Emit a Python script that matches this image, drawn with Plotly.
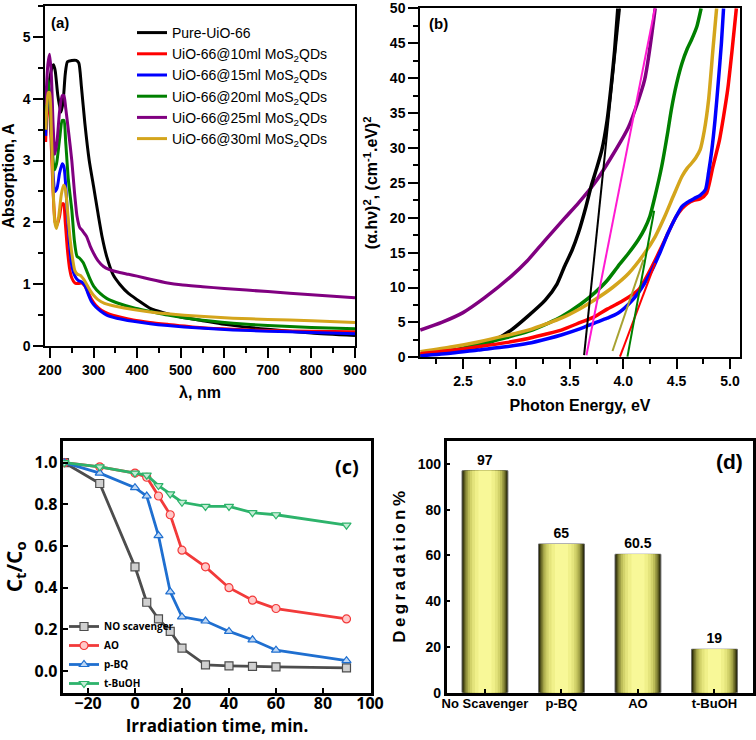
import plotly.graph_objects as go

# ---------------- DATA ----------------
# (a) UV-Vis absorption spectra
wl_pure = [190, 195, 200, 205, 208, 212, 218, 225, 230, 235, 240, 250, 260, 266, 272, 280, 290, 300, 310, 320, 330, 345, 360, 380, 400, 430, 460, 500, 550, 600, 700, 800, 900]
abs_pure = [3.9, 4.1, 4.35, 4.52, 4.55, 4.45, 4.05, 3.78, 3.95, 4.4, 4.6, 4.62, 4.62, 4.58, 4.2, 3.6, 3.0, 2.58, 2.15, 1.75, 1.45, 1.15, 1.0, 0.85, 0.75, 0.61, 0.54, 0.47, 0.41, 0.35, 0.27, 0.21, 0.17]

wl_10 = [190, 193, 197, 202, 207, 212, 216, 222, 227, 231, 235, 240, 245, 250, 257, 265, 273, 280, 287, 295, 305, 318, 335, 360, 391, 430, 470, 544, 620, 700, 800, 900]
abs_10 = [3.3, 3.8, 4.0, 3.4, 2.5, 2.0, 1.95, 2.1, 2.3, 2.3, 2.0, 1.55, 1.25, 1.1, 1.02, 1.01, 1.02, 0.97, 0.88, 0.76, 0.66, 0.58, 0.52, 0.47, 0.42, 0.38, 0.35, 0.3, 0.27, 0.25, 0.24, 0.23]

wl_15 = [190, 193, 197, 202, 207, 211, 216, 222, 228, 232, 236, 242, 250, 258, 265, 272, 280, 287, 295, 305, 315, 330, 353, 391, 430, 470, 544, 620, 700, 800, 900]
abs_15 = [3.4, 3.9, 4.2, 3.6, 2.8, 2.5, 2.55, 2.8, 2.95, 2.9, 2.6, 1.9, 1.3, 1.12, 1.06, 1.04, 0.98, 0.85, 0.72, 0.63, 0.57, 0.5, 0.45, 0.4, 0.36, 0.33, 0.29, 0.26, 0.24, 0.22, 0.2]

wl_20 = [190, 193, 196, 200, 205, 210, 215, 222, 228, 232, 236, 242, 250, 256, 262, 268, 276, 284, 292, 300, 315, 330, 353, 391, 430, 470, 544, 620, 700, 800, 900]
abs_20 = [3.5, 4.1, 4.3, 3.9, 3.2, 2.85, 2.95, 3.35, 3.65, 3.65, 3.3, 2.7, 2.2, 1.7, 1.45, 1.42, 1.35, 1.22, 1.08, 0.97, 0.85, 0.77, 0.7, 0.62, 0.56, 0.5, 0.42, 0.37, 0.33, 0.3, 0.28]

wl_25 = [190, 195, 199, 203, 207, 211, 216, 222, 228, 232, 236, 242, 250, 256, 262, 268, 275, 284, 292, 300, 310, 322, 335, 353, 380, 400, 430, 470, 500, 550, 600, 700, 800, 900]
abs_25 = [3.9, 4.55, 4.72, 4.4, 3.6, 3.1, 3.3, 3.8, 4.05, 4.05, 3.85, 3.5, 3.0, 2.5, 2.1, 1.92, 1.86, 1.77, 1.62, 1.5, 1.38, 1.29, 1.24, 1.2, 1.16, 1.13, 1.08, 1.02, 0.99, 0.96, 0.93, 0.88, 0.83, 0.78]

wl_30 = [190, 193, 196, 199, 203, 207, 211, 215, 220, 226, 231, 235, 240, 245, 250, 257, 263, 270, 277, 284, 292, 300, 310, 325, 353, 391, 430, 470, 544, 620, 700, 800, 900]
abs_30 = [3.5, 3.9, 4.1, 4.1, 3.5, 2.6, 2.0, 1.9, 2.1, 2.45, 2.6, 2.55, 2.2, 1.8, 1.5, 1.22, 1.16, 1.14, 1.08, 1.0, 0.9, 0.82, 0.75, 0.69, 0.64, 0.59, 0.55, 0.52, 0.48, 0.45, 0.43, 0.41, 0.38]

names_a = ["Pure-UiO-66", "UiO-66@10ml MoS<sub>2</sub>QDs", "UiO-66@15ml MoS<sub>2</sub>QDs",
           "UiO-66@20ml MoS<sub>2</sub>QDs", "UiO-66@25ml MoS<sub>2</sub>QDs", "UiO-66@30ml MoS<sub>2</sub>QDs"]

# (b) Tauc plots
E_pure = [2.1, 2.4, 2.64, 2.8, 2.95, 3.1, 3.27, 3.38, 3.45, 3.52, 3.58, 3.65, 3.70, 3.75, 3.80, 3.85, 3.89, 3.92, 3.95]
T_pure = [0.3, 0.8, 1.5, 2.5, 3.9, 5.8, 8.2, 10.5, 13.0, 15.3, 17.8, 21.5, 24.5, 27.0, 29.7, 34.0, 39.3, 44.0, 50.0]

E_10 = [2.1, 2.4, 2.64, 2.9, 3.11, 3.3, 3.42, 3.6, 3.73, 3.85, 3.95, 4.05, 4.14, 4.2, 4.27, 4.35, 4.42, 4.49, 4.55, 4.6, 4.66, 4.72, 4.78, 4.84, 4.9, 4.94, 4.98, 5.02, 5.06]
T_10 = [0.5, 1.0, 1.5, 2.1, 2.7, 3.4, 3.9, 5.0, 5.8, 6.9, 7.7, 8.6, 9.6, 11.0, 13.0, 15.5, 17.8, 20.0, 21.3, 22.0, 22.5, 22.7, 23.5, 27.3, 31.0, 34.5, 38.5, 44.0, 50.0]

E_15 = [2.1, 2.4, 2.64, 2.9, 3.11, 3.3, 3.42, 3.6, 3.73, 3.85, 3.95, 4.05, 4.14, 4.2, 4.27, 4.35, 4.42, 4.49, 4.55, 4.6, 4.67, 4.72, 4.77, 4.8, 4.83, 4.86, 4.89, 4.92, 4.94]
T_15 = [0.2, 0.6, 1.05, 1.5, 2.0, 2.7, 3.2, 4.1, 4.9, 5.6, 6.3, 7.6, 9.2, 10.6, 12.5, 15.2, 17.8, 20.0, 21.6, 22.2, 22.8, 23.2, 24.0, 26.5, 29.7, 34.0, 39.3, 45.0, 50.0]

E_20 = [2.1, 2.4, 2.64, 2.9, 3.11, 3.3, 3.42, 3.6, 3.73, 3.85, 3.95, 4.05, 4.14, 4.2, 4.25, 4.3, 4.36, 4.42, 4.45, 4.5, 4.55, 4.6, 4.64, 4.69, 4.73]
T_20 = [0.3, 1.0, 1.8, 2.8, 3.7, 4.9, 5.8, 7.6, 9.2, 11.0, 13.0, 14.9, 16.8, 18.4, 20.2, 23.2, 27.3, 32.5, 35.4, 39.2, 42.1, 44.2, 45.5, 47.4, 50.0]

E_25 = [2.1, 2.3, 2.5, 2.7, 2.95, 3.1, 3.27, 3.45, 3.58, 3.73, 3.89, 4.05, 4.2, 4.3]
T_25 = [3.9, 5.0, 6.4, 8.5, 11.6, 13.8, 16.8, 19.9, 22.1, 24.9, 28.7, 33.0, 39.7, 50.0]

E_30 = [2.1, 2.4, 2.64, 2.9, 3.11, 3.3, 3.42, 3.6, 3.73, 3.9, 4.05, 4.2, 4.3, 4.39, 4.47, 4.55, 4.6, 4.64, 4.68, 4.72, 4.76, 4.8, 4.84, 4.875]
T_30 = [0.8, 1.5, 2.2, 3.1, 3.9, 4.9, 5.6, 7.0, 8.2, 10.0, 12.0, 14.9, 17.3, 20.2, 23.1, 25.9, 27.1, 27.8, 28.6, 29.7, 32.5, 36.9, 44.0, 50.0]

# band-gap tangent lines (x: eV, y)
tan_pure_E, tan_pure_T = [3.634, 3.97], [0.3, 50]
tan_25_E, tan_25_T = [3.656, 4.297], [0.3, 50]
tan_30_E, tan_30_T = [3.90, 4.19], [0.9, 14]
tan_10_E, tan_10_T = [3.97, 4.30], [0.1, 13.5]
tan_20_E, tan_20_T = [4.04, 4.29], [0.1, 21]

# (c) scavenger kinetics
t_min = [-30, -15, 0, 5, 10, 15, 20, 30, 40, 50, 60, 90]
c_none = [1.0, 0.90, 0.50, 0.33, 0.25, 0.19, 0.11, 0.03, 0.025, 0.022, 0.02, 0.015]
c_ao = [1.0, 0.98, 0.95, 0.93, 0.84, 0.75, 0.58, 0.50, 0.40, 0.34, 0.30, 0.25]
c_pbq = [1.0, 0.95, 0.88, 0.84, 0.65, 0.38, 0.26, 0.24, 0.19, 0.15, 0.10, 0.05]
c_tbuoh = [1.0, 0.98, 0.95, 0.94, 0.89, 0.85, 0.81, 0.79, 0.79, 0.76, 0.75, 0.70]
names_c = ["NO scavenger", "AO", "p-BQ", "t-BuOH"]

# (d) degradation %
scav_cats = ["No Scavenger", "p-BQ", "AO", "t-BuOH"]
degr = [97, 65, 60.5, 19]
degr_labels = ["97", "65", "60.5", "19"]

# ---------------- STYLE ----------------
W, H = 756, 740
FONT = "Liberation Sans, Arial, sans-serif"
def dx(a, b): return [a / W, b / W]
def dy(top, bot): return [1 - bot / H, 1 - top / H]

fig = go.Figure()

cols_a = ["#000000", "#ff0000", "#0000ff", "#008000", "#800080", "#d4a51c"]
series_a = [(wl_pure, abs_pure), (wl_10, abs_10), (wl_15, abs_15), (wl_20, abs_20), (wl_25, abs_25), (wl_30, abs_30)]
for (xs, ys), c, n in zip(series_a, cols_a, names_a):
    fig.add_trace(go.Scatter(x=xs, y=ys, mode="lines", name=n, line=dict(color=c, width=3, shape="spline", smoothing=0.6),
                             xaxis="x", yaxis="y", legend="legend"))

series_b = [(E_25, T_25, "#800080"), (E_pure, T_pure, "#000000"), (E_20, T_20, "#008000"), (E_30, T_30, "#d4a51c"),
            (E_10, T_10, "#ff0000"), (E_15, T_15, "#0000ff")]
for xs, ys, c in series_b:
    fig.add_trace(go.Scatter(x=xs, y=ys, mode="lines", showlegend=False, line=dict(color=c, width=3.5, shape="spline", smoothing=0.6),
                             xaxis="x2", yaxis="y2"))
tangents = [(tan_pure_E, tan_pure_T, "#000000"), (tan_25_E, tan_25_T, "#ff1ad1"), (tan_30_E, tan_30_T, "#a8a232"),
            (tan_10_E, tan_10_T, "#ff0000"), (tan_20_E, tan_20_T, "#008000")]
for xs, ys, c in tangents:
    fig.add_trace(go.Scatter(x=xs, y=ys, mode="lines", showlegend=False, line=dict(color=c, width=2),
                             xaxis="x2", yaxis="y2"))

cols_c = ["#4d4d4d", "#f23a3a", "#1f6fd0", "#2db36b"]
fills_c = ["#d0d0d0", "#ffc8c8", "#c0d8f4", "#c4ecd4"]
syms_c = ["square", "circle", "triangle-up", "triangle-down"]
for ys, c, f, s, n in zip([c_none, c_ao, c_pbq, c_tbuoh], cols_c, fills_c, syms_c, names_c):
    fig.add_trace(go.Scatter(x=t_min, y=ys, mode="lines+markers", name=n,
                             line=dict(color=c, width=2.8),
                             marker=dict(symbol=s, size=8, color=f, line=dict(color=c, width=1.2)),
                             xaxis="x3", yaxis="y3", legend="legend2"))

# (d) shaded bars: overlaid bars of shrinking width give a cylindrical shading
shade_w = [0.60, 0.575, 0.55, 0.52, 0.485, 0.445, 0.395, 0.335, 0.26, 0.17]
shade_c = ["#1e1e05", "#3c3c12", "#5e5e22", "#808034", "#a0a046", "#bcbc58", "#d2d26a", "#e4e47c", "#f0f08a", "#f8f898"]
for i, (w, c) in enumerate(zip(shade_w, shade_c)):
    fig.add_trace(go.Bar(x=scav_cats, y=degr, width=w, showlegend=False, xaxis="x4", yaxis="y4",
                         marker=dict(color=c, line=dict(width=1 if i == 0 else 0, color="#6e6e6e")),
                         text=degr_labels if i == 0 else None, textposition="outside" if i == 0 else "none",
                         texttemplate="%{text}" if i == 0 else None,
                         textfont=dict(family=FONT, size=14, color="black", weight="bold"),
                         cliponaxis=False, hoverinfo="skip"))

tickfont = dict(family=FONT, size=14, color="black", weight="bold")
def axis(domain, rng, dtick, tick0, anchor, lw=1.5, ticks="outside", ticklen=10, minor_dtick=None, **kw):
    d = dict(domain=domain, range=rng, dtick=dtick, tick0=tick0, anchor=anchor, showline=True, linecolor="black",
             linewidth=lw, mirror=True, ticks=ticks, ticklen=ticklen, tickwidth=1.5, tickcolor="black",
             showgrid=False, zeroline=False, tickfont=tickfont, automargin=False)
    if minor_dtick is not None:
        d["minor"] = dict(dtick=minor_dtick, ticks=ticks, ticklen=5, tickwidth=1.5, tickcolor="black", showgrid=False)
    d.update(kw)
    return d

title_font = dict(family=FONT, size=16, color="black", weight="bold")
ofont = "Open Sans, Liberation Sans"

fig.update_layout(
    width=W, height=H, margin=dict(l=0, r=0, t=0, b=0, autoexpand=False),
    paper_bgcolor="white", plot_bgcolor="white", barmode="overlay",
    xaxis=axis(dx(45, 355), [188.5, 900], 100, 200, "y", minor_dtick=50,
               title=dict(text="λ, nm", font=title_font, standoff=10)),
    yaxis=axis(dy(6, 346), [0, 5.5], 1, 0, "x", minor_dtick=0.5,
               title=dict(text="Absorption, A", font=title_font, standoff=4)),
    xaxis2=axis(dx(420, 740), [2.097, 5.094], 0.5, 2.5, "y2", minor_dtick=0.25, tickformat=".1f",
                title=dict(text="Photon Energy, eV", font=title_font, standoff=12)),
    yaxis2=axis(dy(8.3, 357.3), [0, 50], 5, 0, "x2", minor_dtick=2.5,
                title=dict(text="(α.hν)<sup>2</sup>, (cm<sup>-1</sup>.eV)<sup>2</sup>", font=title_font, standoff=8)),
    xaxis3=axis(dx(63.3, 370.7), [-30.5, 100.3], 20, 0, "y3", lw=2.5, ticks="inside", ticklen=5, ticklabelstandoff=-6,
                tickfont=dict(family=ofont, size=16, color="black", weight="bold"),
                title=dict(text="Irradiation time, min.", font=dict(family=ofont, size=17, color="black", weight="bold"), standoff=6)),
    yaxis3=axis(dy(441, 692.7), [-0.104, 1.104], 0.2, 0, "x3", lw=2.5, ticks="inside", ticklen=5, tickformat=".1f",
                tickfont=dict(family=ofont, size=16, color="black", weight="bold"),
                title=dict(text="C<sub>t</sub>/C<sub>o</sub>", font=dict(family=ofont, size=21, color="black", weight="bold"), standoff=10)),
    xaxis4=dict(domain=dx(446.7, 752.7), range=[-0.5, 3.5], anchor="y4", showline=True, linecolor="black", linewidth=2.5,
                mirror=True, ticks="inside", ticklen=4, tickwidth=1.5, tickcolor="black", showgrid=False,
                tickfont=dict(family=FONT, size=13, color="black", weight="bold"),
                automargin=False, ticklabelstandoff=-3),
    yaxis4=axis(dy(441, 692.7), [0, 110], 20, 0, "x4", lw=2.5, ticks="inside", ticklen=4,
                title=dict(text="D\u2009e\u2009g\u2009r\u2009a\u2009d\u2009a\u2009t\u2009i\u2009o\u2009n\u2009%", font=dict(family=FONT, size=17, color="black", weight="bold"), standoff=8)),
    legend=dict(x=132 / W, y=1 - 17 / H, xanchor="left", yanchor="top", bgcolor="rgba(0,0,0,0)",
                font=dict(family=FONT, size=14, color="black"), itemwidth=30, tracegroupgap=0),
    legend2=dict(x=64 / W, y=1 - 612 / H, xanchor="left", yanchor="top", bgcolor="rgba(0,0,0,0)",
                 font=dict(family=ofont, size=10, color="black", weight="bold"), itemwidth=30),
    annotations=[
        dict(text="(a)", x=49 / W, y=1 - 22 / H, xref="paper", yref="paper", xanchor="left", yanchor="middle", showarrow=False,
             font=dict(family=FONT, size=15, color="black", weight="bold")),
        dict(text="(b)", x=427 / W, y=1 - 23 / H, xref="paper", yref="paper", xanchor="left", yanchor="middle", showarrow=False,
             font=dict(family=FONT, size=15, color="black", weight="bold")),
        dict(text="(c)", x=333 / W, y=1 - 466 / H, xref="paper", yref="paper", xanchor="left", yanchor="middle", showarrow=False,
             font=dict(family=ofont, size=20, color="black", weight="bold")),
        dict(text="(d)", x=714 / W, y=1 - 462 / H, xref="paper", yref="paper", xanchor="left", yanchor="middle", showarrow=False,
             font=dict(family=FONT, size=21, color="black", weight="bold")),
    ],
)

fig.write_html("out.html")
